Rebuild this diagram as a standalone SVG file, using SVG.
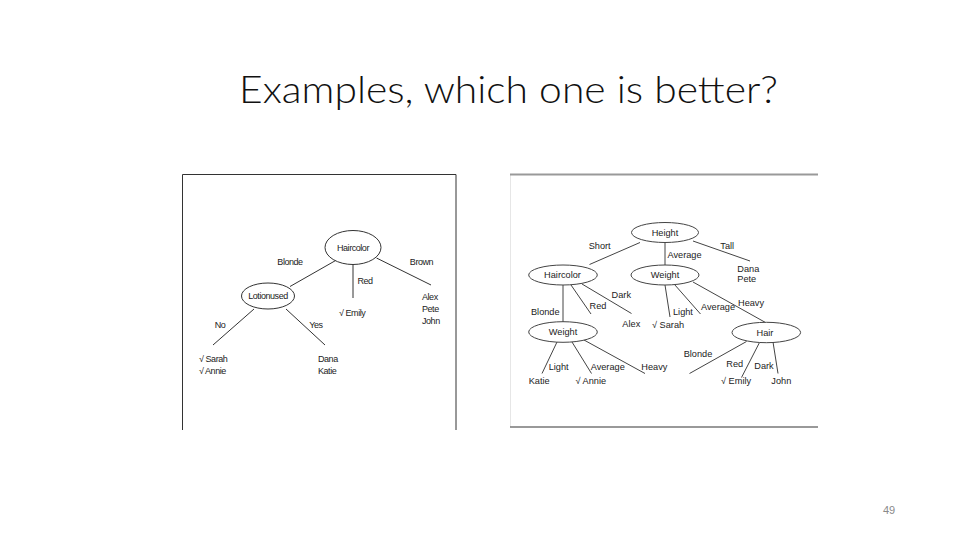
<svg xmlns="http://www.w3.org/2000/svg" width="960" height="540" viewBox="0 0 960 540">
  <style>
    .title { font-family: Lato, "Open Sans", "Liberation Sans", sans-serif; font-weight: 300; font-size: 38px; fill: #111; }
    .pg { font-family: "Liberation Sans", sans-serif; font-size: 11px; fill: #8a8a8a; }
    .lt { font-family: "Liberation Sans", Arial, sans-serif; font-size: 9px; letter-spacing: -0.45px; fill: #222; }
    .rt { font-family: "Liberation Sans", Arial, sans-serif; font-size: 9.2px; fill: #222; }
    .ledge { stroke: #333; stroke-width: 1; fill: none; }
    .redge { stroke: #444; stroke-width: 1; fill: none; }
    .lnode { fill: #fff; stroke: #333; stroke-width: 1; }
    .rnode { fill: #fff; stroke: #444; stroke-width: 1; }
    .mid { text-anchor: middle; }
  </style>

  <rect x="0" y="0" width="960" height="540" fill="#fff"/>

  <text class="title" x="239" y="102.5" textLength="539" lengthAdjust="spacingAndGlyphs">Examples, which one is better?</text>

  <!-- left tree frame -->
  <g id="left-frame" fill="none" stroke="#333" stroke-width="1">
    <path d="M182.5,430 V174.5 H456 V430"/>
  </g>

  <!-- left tree connectors -->
  <g id="left-edges" class="ledge">
    <line x1="336.5" y1="260" x2="290" y2="286.5"/>
    <line x1="353" y1="264" x2="353" y2="298"/>
    <line x1="376.5" y1="258" x2="431" y2="285"/>
    <line x1="254" y1="309" x2="213" y2="345"/>
    <line x1="286" y1="309" x2="325" y2="345"/>
  </g>

  <g id="left-haircolor">
    <ellipse class="lnode" cx="353" cy="247.5" rx="28" ry="17"/>
    <text class="lt mid" x="353" y="250.5">Haircolor</text>
  </g>
  <g id="left-lotionused">
    <ellipse class="lnode" cx="268" cy="296" rx="26.5" ry="13"/>
    <text class="lt mid" x="268" y="299">Lotionused</text>
  </g>

  <g id="left-labels">
    <text class="lt mid" x="290" y="265">Blonde</text>
    <text class="lt mid" x="365" y="284">Red</text>
    <text class="lt mid" x="421.5" y="265">Brown</text>
    <text class="lt mid" x="220" y="328">No</text>
    <text class="lt mid" x="316" y="328">Yes</text>
  </g>

  <g id="left-leaves">
    <text class="lt" x="339" y="316">√ Emily</text>
    <text class="lt" x="422" y="300">Alex</text>
    <text class="lt" x="422" y="312">Pete</text>
    <text class="lt" x="422" y="324">John</text>
    <text class="lt" x="199" y="362">√ Sarah</text>
    <text class="lt" x="199" y="374">√ Annie</text>
    <text class="lt" x="318" y="362">Dana</text>
    <text class="lt" x="318" y="374">Katie</text>
  </g>

  <!-- right tree frame -->
  <g id="right-frame">
    <line x1="510.5" y1="175" x2="510.5" y2="427" stroke="#e6e6e6" stroke-width="1"/>
    <line x1="510" y1="174.5" x2="818" y2="174.5" stroke="#999" stroke-width="2"/>
    <line x1="510" y1="427" x2="818" y2="427" stroke="#777" stroke-width="1.5"/>
  </g>

  <!-- right tree connectors -->
  <g id="right-edges" class="redge">
    <line x1="640" y1="242.5" x2="589.5" y2="264.5"/>
    <line x1="665" y1="242" x2="665" y2="265"/>
    <line x1="693" y1="241" x2="750" y2="261"/>
    <line x1="563" y1="285" x2="563" y2="322"/>
    <line x1="571" y1="285" x2="591" y2="314"/>
    <line x1="582" y1="284" x2="631.5" y2="313.5"/>
    <line x1="665" y1="285" x2="670" y2="317"/>
    <line x1="674.5" y1="284.5" x2="700.5" y2="314"/>
    <line x1="693" y1="282" x2="765.5" y2="322.5"/>
    <line x1="557" y1="342" x2="542" y2="373.5"/>
    <line x1="572" y1="342" x2="591.5" y2="373.5"/>
    <line x1="584" y1="340" x2="645" y2="373.5"/>
    <line x1="746.5" y1="341.5" x2="689.5" y2="373.5"/>
    <line x1="759.5" y1="342.5" x2="741.5" y2="377.5"/>
    <line x1="773" y1="342" x2="778" y2="373.5"/>
  </g>

  <g id="right-height">
    <ellipse class="rnode" cx="665" cy="232.5" rx="33.5" ry="10"/>
    <text class="rt mid" x="665" y="235.8">Height</text>
  </g>
  <g id="right-haircolor">
    <ellipse class="rnode" cx="563" cy="275" rx="34.3" ry="10"/>
    <text class="rt mid" x="562.5" y="278.3">Haircolor</text>
  </g>
  <g id="right-weight-top">
    <ellipse class="rnode" cx="665" cy="275" rx="34" ry="10"/>
    <text class="rt mid" x="665" y="278.3">Weight</text>
  </g>
  <g id="right-weight-low">
    <ellipse class="rnode" cx="563" cy="332" rx="34.3" ry="10.3"/>
    <text class="rt mid" x="563" y="335.3">Weight</text>
  </g>
  <g id="right-hair">
    <ellipse class="rnode" cx="766.3" cy="332.5" rx="34.3" ry="10.2"/>
    <text class="rt mid" x="765" y="335.8">Hair</text>
  </g>

  <g id="right-labels">
    <text class="rt mid" x="599.7" y="249.3">Short</text>
    <text class="rt" x="667.5" y="258.3">Average</text>
    <text class="rt" x="720.3" y="249.3">Tall</text>
    <text class="rt mid" x="545.3" y="315">Blonde</text>
    <text class="rt mid" x="598" y="309">Red</text>
    <text class="rt mid" x="621.3" y="298.3">Dark</text>
    <text class="rt" x="673" y="315">Light</text>
    <text class="rt" x="701" y="310">Average</text>
    <text class="rt" x="738" y="306">Heavy</text>
    <text class="rt" x="548.7" y="370">Light</text>
    <text class="rt" x="590.7" y="370">Average</text>
    <text class="rt" x="641.3" y="370">Heavy</text>
    <text class="rt mid" x="698" y="357.3">Blonde</text>
    <text class="rt mid" x="734.7" y="366.6">Red</text>
    <text class="rt mid" x="764" y="369.3">Dark</text>
  </g>

  <g id="right-leaves">
    <text class="rt" x="737.3" y="272">Dana</text>
    <text class="rt" x="737.3" y="282">Pete</text>
    <text class="rt mid" x="631.3" y="327.3">Alex</text>
    <text class="rt" x="652" y="328">√ Sarah</text>
    <text class="rt" x="528.7" y="384">Katie</text>
    <text class="rt" x="575.5" y="384">√ Annie</text>
    <text class="rt" x="721" y="384">√ Emily</text>
    <text class="rt mid" x="781.3" y="384">John</text>
  </g>

  <text class="pg" x="883" y="514">49</text>
</svg>
